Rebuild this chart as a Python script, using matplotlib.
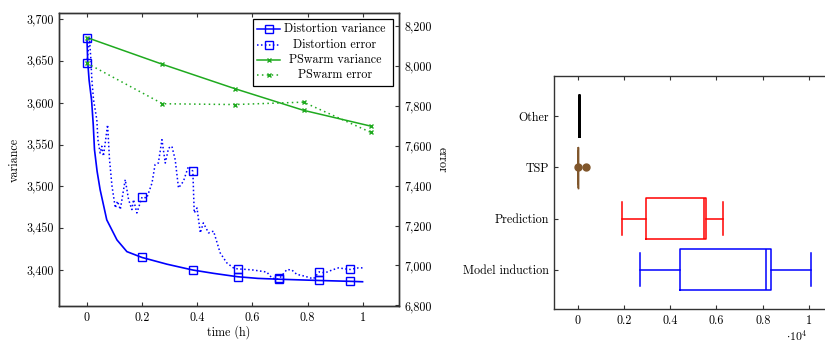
import numpy as np
import matplotlib
matplotlib.use("Agg")
import matplotlib.pyplot as plt
from matplotlib.ticker import FuncFormatter, FixedLocator
from matplotlib.lines import Line2D
from matplotlib.patches import Rectangle

plt.rcParams['font.family'] = ['cmr10', 'DejaVu Serif']
plt.rcParams['mathtext.fontset'] = 'cm'
plt.rcParams['axes.formatter.use_mathtext'] = True
plt.rcParams['font.size'] = 8.7

BLUE = '#0000ff'
GREEN = '#1faa1f'
RED = '#ff0000'
BROWN = '#80562b'
SPINE = '#333333'

# Distortion run, time in hours
dist_var_t = [0, 0.003, 0.008, 0.017, 0.023, 0.0275, 0.037, 0.048, 0.072, 0.109,
              0.145, 0.2, 0.29, 0.384, 0.46, 0.546, 0.62, 0.698, 0.842, 0.954, 0.999]
dist_var = [3678, 3649, 3627, 3603, 3574, 3544, 3518, 3496, 3460, 3436,
            3422, 3415, 3407, 3400, 3396, 3392, 3390, 3389, 3387.5, 3386.5, 3386]

dist_err_t = [0, 0.0094, 0.0145, 0.018, 0.024, 0.030, 0.036, 0.040, 0.048, 0.054,
              0.060, 0.068, 0.075, 0.082, 0.091, 0.103, 0.111, 0.121, 0.139, 0.151,
              0.163, 0.169, 0.181, 0.2, 0.217, 0.236, 0.247, 0.259, 0.272, 0.284,
              0.296, 0.308, 0.320, 0.332, 0.350, 0.368, 0.384, 0.389, 0.399, 0.411,
              0.422, 0.441, 0.459, 0.483, 0.507, 0.531, 0.546, 0.580, 0.604, 0.628,
              0.652, 0.670, 0.688, 0.698, 0.725, 0.743, 0.761, 0.779, 0.797, 0.821,
              0.842, 0.863, 0.888, 0.912, 0.936, 0.954, 0.984, 0.999]
dist_err = [8013, 8138, 8030, 7930, 7830, 7780, 7730, 7630, 7563, 7597,
            7547, 7630, 7705, 7530, 7397, 7288, 7322, 7280, 7430, 7330,
            7280, 7330, 7263, 7343, 7338, 7413, 7505, 7513, 7630, 7513,
            7588, 7597, 7530, 7388, 7422, 7497, 7472, 7263, 7288, 7163,
            7213, 7163, 7172, 7063, 7013, 6988, 6983, 6980, 6977, 6972,
            6967, 6938, 6930, 6935, 6980, 6977, 6955, 6950, 6943, 6933,
            6968, 6963, 6977, 6988, 6983, 6980, 6988, 6988]

dist_mark_t = [0, 0.2, 0.384, 0.546, 0.698, 0.842, 0.954]

# PSwarm run
ps_t = [0, 0.274, 0.535, 0.785, 1.03]
ps_var = [3678, 3646, 3617, 3591, 3572]
ps_err = [8013, 7810, 7806, 7818, 7666]

# runtime distribution per task type
box_labels = ['Model induction', 'Prediction', 'TSP', 'Other']
box_colors = [BLUE, RED, BROWN, 'black']
box_whislo = [2710, 1900, 5, 40]
box_q1 = [4440, 2940, 5, 40]
box_med = [8120, 5440, 5, 60]
box_q3 = [8370, 5550, 5, 80]
box_whishi = [10080, 6280, 5, 80]
box_fliers = [[], [], [20, 346], []]


def mark_idx(t, marks):
    t = np.asarray(t)
    return [int(np.argmin(np.abs(t - m))) for m in marks]


def style_ticks(a, **kw):
    a.tick_params(direction='in', length=3, width=0.8, color=SPINE, pad=4, **kw)


fig = plt.figure(figsize=(8.25, 3.44), dpi=100)

# ---- left: variance / error over time ----
ax = fig.add_axes([59.3 / 825, 1 - 306 / 344, 339.4 / 825, 292.7 / 344])
ax2 = ax.twinx()

sq = dict(marker='s', markersize=5.5, markerfacecolor='none', markeredgewidth=1.0)
ax.plot(dist_var_t, dist_var, color=BLUE, lw=1.2,
        markevery=mark_idx(dist_var_t, dist_mark_t), **sq)
ax2.plot(dist_err_t, dist_err, color=BLUE, lw=1.1, linestyle=(0, (1, 1.6)),
         markevery=mark_idx(dist_err_t, dist_mark_t), **sq)
ax.plot(ps_t, ps_var, color=GREEN, lw=1.1, marker='x', markersize=3.5, markeredgewidth=1.0)
ax2.plot(ps_t, ps_err, color=GREEN, lw=1.1, linestyle=(0, (1, 2.2)),
         marker='x', markersize=3.5, markeredgewidth=1.0)

ax.set_xlim(-0.1, 1.13)
ax.set_ylim(3357, 3707)
ax2.set_ylim(6797, 8263)

ax.xaxis.set_major_locator(FixedLocator([0, 0.2, 0.4, 0.6, 0.8, 1.0]))
ax.xaxis.set_major_formatter(FuncFormatter(lambda v, p: '%g' % round(v, 2)))
ax.yaxis.set_major_locator(FixedLocator(np.arange(3400, 3701, 50)))
ax.yaxis.set_major_formatter(FuncFormatter(lambda v, p: '{:,.0f}'.format(v)))
ax2.yaxis.set_major_locator(FixedLocator(np.arange(6800, 8201, 200)))
ax2.yaxis.set_major_formatter(FuncFormatter(lambda v, p: '{:,.0f}'.format(v)))

style_ticks(ax, top=True, bottom=True, left=True, right=False)
style_ticks(ax2, left=False, right=True, top=False, bottom=False)
for a in (ax, ax2):
    for s in a.spines.values():
        s.set_color(SPINE)
        s.set_linewidth(1.0)

# legend with centred labels, as in the original
leg_box = Rectangle((0.570, 0.7516), 0.412, 0.229, transform=ax2.transAxes,
                    facecolor='white', edgecolor='black', lw=0.9, zorder=10)
ax2.add_patch(leg_box)
leg_entries = [
    ('Distortion variance', BLUE, '-', 's'),
    ('Distortion error', BLUE, (0, (1, 1.6)), 's'),
    ('PSwarm variance', GREEN, '-', 'x'),
    ('PSwarm error', GREEN, (0, (1, 2.2)), 'x'),
]
for i, (lab, col, ls, mk) in enumerate(leg_entries):
    y = 0.945 - i * 0.052
    ms = 5.5 if mk == 's' else 3.5
    ax2.add_line(Line2D([0.583, 0.6165, 0.650], [y, y, y], transform=ax2.transAxes,
                        color=col, lw=1.1, linestyle=ls, marker=mk, markevery=[1],
                        markersize=ms, markerfacecolor='none', markeredgewidth=1.0,
                        zorder=11))
    ax2.text(0.812, y, lab, transform=ax2.transAxes, ha='center', va='center', zorder=11)

fig.text(15 / 825, 1 - 159.7 / 344, 'variance', rotation=90, ha='center', va='center')
fig.text(441.7 / 825, 1 - 160 / 344, 'error', rotation=270, ha='center', va='center')
fig.text(228.7 / 825, 1 - 332 / 344, 'time (h)', ha='center', va='center')

# ---- right: box plot ----
bx = fig.add_axes([554.3 / 825, 1 - 309.3 / 344, (834.3 - 554.3) / 825, (309.3 - 75.7) / 344])
stats = []
for i in range(len(box_labels)):
    stats.append(dict(label=box_labels[i], whislo=box_whislo[i], q1=box_q1[i],
                      med=box_med[i], q3=box_q3[i], whishi=box_whishi[i],
                      fliers=box_fliers[i]))
positions = list(range(1, len(box_labels) + 1))
res = bx.bxp(stats, positions=positions, orientation='horizontal', widths=0.8,
             capwidths=0.65, showfliers=True)
for i, col in enumerate(box_colors):
    res['boxes'][i].set(color=col, lw=1.1)
    res['medians'][i].set(color=col, lw=1.1)
    for w in res['whiskers'][2 * i:2 * i + 2]:
        w.set(color=col, lw=1.1)
    for c in res['caps'][2 * i:2 * i + 2]:
        c.set(color=col, lw=1.1)
    res['fliers'][i].set(marker='o', markerfacecolor=col, markeredgecolor=col,
                         markersize=5)
res['boxes'][3].set(lw=2.0)
res['boxes'][2].set(lw=1.0)

bx.set_xlim(-1008, 11090)
bx.set_ylim(0.23, 4.785)
bx.xaxis.set_major_locator(FixedLocator(np.arange(0, 10001, 2000)))
bx.xaxis.set_major_formatter(FuncFormatter(lambda v, p: '%g' % round(v / 1e4, 2)))
bx.set_yticks(positions)
bx.set_yticklabels(box_labels)
style_ticks(bx, top=True, bottom=True, left=True, right=False)
for s in bx.spines.values():
    s.set_color(SPINE)
    s.set_linewidth(1.0)
fig.text(796.7 / 825, 1 - 343 / 344, r'$\cdot 10^4$', ha='center', va='bottom',
         fontsize=8.5)

fig.savefig('out.png', dpi=100)
